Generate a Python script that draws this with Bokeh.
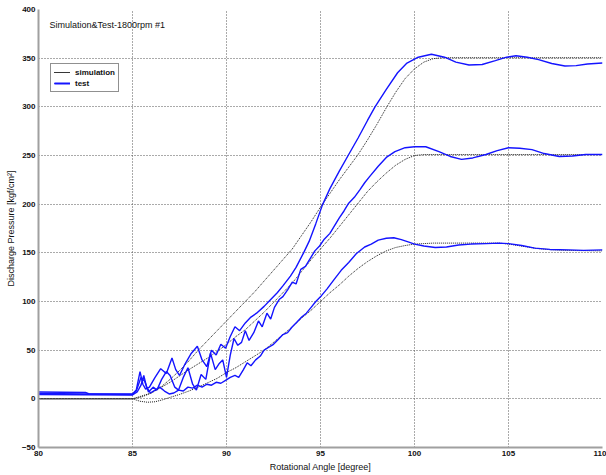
from bokeh.plotting import figure
from bokeh.models import FixedTicker, Label
from bokeh.embed import file_html
from bokeh.resources import INLINE

x_ticks = [80, 85, 90, 95, 100, 105, 110]
y_ticks = [-50, 0, 50, 100, 150, 200, 250, 300, 350, 400]

# simulation curves (black dotted)
sim_high_x = [80, 85, 85.5, 86, 86.5, 87, 87.5, 88, 88.5, 89, 89.5, 90, 90.5, 91, 91.5, 92, 92.5, 93, 93.5, 94, 94.5, 95, 95.5, 96, 96.5, 97, 97.5, 98, 98.5, 99, 99.5, 100, 100.5, 101, 101.5, 110]
sim_high_y = [0, 0, 2, 6, 12, 20, 29, 39, 50, 60, 70, 80, 90, 100, 110, 121, 132, 143, 154, 168, 182, 197, 211, 225, 238, 251, 266, 282, 299, 315, 329, 339, 346, 349.5, 350.5, 350.5]

sim_mid_x = [80, 85, 86, 87, 88, 89, 89.6, 90, 90.5, 91, 91.5, 92, 92.5, 93, 93.5, 94, 94.5, 95, 95.5, 96, 96.5, 97, 97.5, 98, 98.5, 99, 99.5, 100, 100.5, 110]
sim_mid_y = [0, 0, 6, 17, 30, 42, 50, 56, 64, 71, 80, 89, 99, 109, 119, 131, 143, 154, 165, 177, 189, 201, 213, 223, 232, 240, 246, 250, 251, 251]

sim_low_x = [80, 85, 85.4, 85.8, 86.2, 86.6, 87, 87.5, 88, 88.5, 89, 89.5, 90, 90.5, 91, 91.5, 92, 92.5, 93, 93.5, 94, 94.5, 95, 95.5, 96, 96.5, 97, 97.5, 98, 98.5, 99, 99.5, 100, 100.5, 101, 104.5, 105, 105.5, 106, 106.5, 107, 108, 110]
sim_low_y = [0, 0, -2.5, -3.5, -3, -1, 1.5, 4.5, 8, 12, 16.5, 21, 27, 32, 38, 44, 50, 58, 66, 74, 83, 91, 100, 109, 117, 126, 134, 141, 147, 152, 155.5, 157.5, 159, 159.5, 160, 160, 159, 157.5, 156, 154.5, 153.5, 152.5, 152]

# test curves (blue)
test_high_x = [80, 82.5, 82.7, 85.0, 85.2, 85.4, 85.55, 85.7, 85.9, 86.2, 86.5, 86.8, 87.1, 87.3, 87.5, 87.8, 88.1, 88.45, 88.7, 88.95, 89.2, 89.45, 89.7, 89.95, 90.2, 90.45, 90.7, 91.0, 91.3, 91.6, 92.0, 92.3, 92.7, 93.0, 93.4, 93.7, 94.1, 94.4, 94.75, 95.1, 95.5, 96.0, 96.5, 97.0, 97.5, 97.9, 98.5, 99.1, 99.6, 100.2, 100.9, 101.6, 102.2, 102.9, 103.6, 104.3, 104.9, 105.4, 106.0, 106.6, 107.3, 108.0, 108.6, 109.2, 110]
test_high_y = [7, 6.5, 5, 5, 9, 28, 15, 10, 12, 22, 31, 26, 42, 30, 24, 36, 46, 54, 40, 33, 50, 45, 56, 52, 64, 74, 70, 78, 84, 88, 95, 101, 109, 116, 126, 135, 150, 162, 180, 199, 216, 234, 251, 268, 286, 300, 318, 335, 345, 351, 354, 351, 346, 343, 343.5, 347.5, 351, 352.5, 351, 348.5, 344.5, 342, 342.3, 344, 345]

test_mid_x = [80, 85.0, 85.2, 85.45, 85.65, 85.85, 86.1, 86.3, 86.55, 86.8, 87.0, 87.25, 87.45, 87.7, 87.95, 88.2, 88.4, 88.65, 88.9, 89.15, 89.4, 89.6, 89.8, 90.0, 90.2, 90.4, 90.6, 90.8, 91.0, 91.2, 91.45, 91.7, 91.9, 92.15, 92.35, 92.55, 92.8, 93.0, 93.25, 93.5, 93.7, 93.95, 94.2, 94.45, 94.7, 94.95, 95.2, 95.5, 95.75, 96.0, 96.25, 96.5, 96.8, 97.1, 97.35, 97.6, 98.07, 98.5, 98.96, 99.5, 100.0, 100.6, 101.3, 101.9, 102.5, 103.1, 103.8, 104.4, 105.0, 105.6, 106.25, 106.9, 107.7, 108.4, 109.1, 110]
test_mid_y = [5.5, 4.5, 8, 22, 18, 7, 12, 9, 20, 28, 24, 12, 9, 22, 32, 15, 9, 25, 20, 47, 30, 36, 40, 22, 45, 62, 55, 58, 70, 60, 68, 80, 74, 88, 82, 94, 102, 105, 112, 120, 118, 133, 136, 144, 152, 157, 164, 170, 178, 186, 193, 201, 207, 215, 222, 228, 239, 248, 254, 258, 259, 259, 254, 249, 246, 247.5, 251, 255, 258, 257.5, 256, 252, 249, 249.5, 251, 251]

test_low_x = [80, 85.0, 85.25, 85.45, 85.6, 85.75, 85.95, 86.2, 86.45, 86.7, 86.95, 87.2, 87.45, 87.7, 87.95, 88.2, 88.45, 88.7, 88.95, 89.2, 89.45, 89.7, 89.95, 90.2, 90.45, 90.65, 90.9, 91.1, 91.3, 91.55, 91.8, 92.0, 92.25, 92.5, 92.75, 93.0, 93.25, 93.5, 93.75, 94.0, 94.25, 94.5, 94.75, 95.05, 95.35, 95.7, 96.1, 96.5, 96.9, 97.35, 97.7, 98.07, 98.5, 98.9, 99.3, 99.7, 100.0, 100.5, 101.1, 101.7, 102.35, 103.0, 103.8, 104.5, 105.0, 105.7, 106.4, 107.2, 108.2, 109.0, 110]
test_low_y = [4.5, 4, 7, 14, 24, 12, 6, 9, 12, 8, 5, 6, 9, 8, 12, 11, 14, 12, 15, 14, 17, 16, 19, 22, 24, 22, 30, 37, 34, 40, 44, 50, 53, 56, 61, 66, 68, 74, 79, 84, 88, 94, 100, 106, 113, 122, 132, 140, 149, 156, 159, 163, 165, 165.5, 163.5, 161, 159, 157, 155.5, 156, 158, 159, 159.5, 160, 159.5, 157.5, 154.8, 153.5, 153, 152.5, 153]

title_text = "Simulation&Test-1800rpm #1"

FONT = "Liberation Sans"

p = figure(width=606, height=475, x_range=(80, 110), y_range=(-50, 400),
           output_backend="svg", toolbar_location=None,
           min_border_left=38, min_border_right=4, min_border_top=9, min_border_bottom=28)
p.outline_line_color = None
p.background_fill_color = "white"

SIM_COLOR = "#1a1a1a"
TEST_COLOR = "#1414ff"

for xs, ys in [(sim_high_x, sim_high_y), (sim_mid_x, sim_mid_y), (sim_low_x, sim_low_y)]:
    p.line(xs, ys, line_color=SIM_COLOR, line_dash="1 1", line_width=1, legend_label="simulation")
for xs, ys in [(test_high_x, test_high_y), (test_mid_x, test_mid_y), (test_low_x, test_low_y)]:
    p.line(xs, ys, line_color=TEST_COLOR, line_width=1.4, legend_label="test")

p.add_layout(Label(x=80.58, y=384, text=title_text, text_font=FONT, text_font_size="9px",
                   text_baseline="middle", text_align="left", text_color="#111111"))

for ax, ticks in [(p.xaxis, x_ticks), (p.yaxis, y_ticks)]:
    ax.ticker = FixedTicker(ticks=ticks)
    ax.axis_line_color = "#a0a0a0"
    ax.axis_line_width = 2
    ax.major_tick_in = 0
    ax.major_tick_out = 0
    ax.minor_tick_line_color = None
    ax.major_label_text_font = FONT
    ax.major_label_text_font_size = "8px"
    ax.major_label_text_font_style = "bold"
    ax.major_label_text_color = "#111111"
    ax.major_label_standoff = 3
    ax.axis_label_text_font = FONT
    ax.axis_label_text_font_size = "9px"
    ax.axis_label_text_font_style = "normal"
    ax.axis_label_text_color = "#111111"
    ax.axis_label_standoff = 3

p.xaxis.axis_label = "Rotational Angle [degree]"
p.yaxis.axis_label = "Discharge Pressure [kgf/cm\u00b2]"

p.xgrid.ticker = FixedTicker(ticks=x_ticks)
p.ygrid.ticker = FixedTicker(ticks=y_ticks)
p.grid.grid_line_color = "#555555"
p.grid.grid_line_dash = "1 2"
p.grid.grid_line_width = 1

lg = p.legend[0]
lg.location = (12, 355)
lg.margin = 0
lg.padding = 3
lg.spacing = 1
lg.label_height = 10
lg.glyph_height = 10
lg.glyph_width = 16
lg.label_standoff = 5
lg.label_text_font = FONT
lg.label_text_font_size = "8px"
lg.label_text_font_style = "bold"
lg.label_text_color = "#111111"
lg.border_line_color = "#222222"
lg.border_line_width = 1
lg.background_fill_color = "white"
lg.background_fill_alpha = 1

open("out.html", "w").write(file_html(p, INLINE))
